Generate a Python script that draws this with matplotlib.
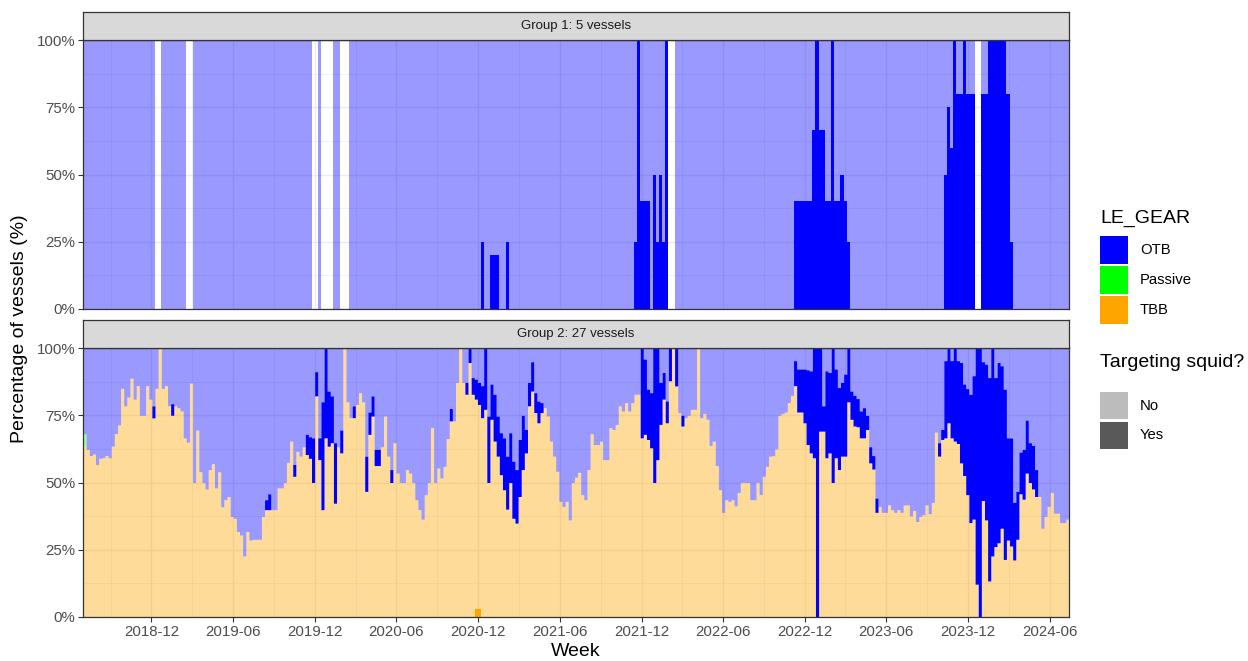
import numpy as np
import pandas as pd
import matplotlib
matplotlib.use('Agg')
import matplotlib.pyplot as plt
import matplotlib.dates as mdates
from matplotlib.patches import Rectangle
from matplotlib.ticker import MultipleLocator, FuncFormatter, FixedLocator

plt.rcParams['font.family'] = ['Liberation Sans', 'DejaVu Sans']

NA = np.nan
first_week = '2018-07-01'
n_weeks = 315

# Group 1: % of vessels with OTB targeting squid (rest = OTB, not squid); NA = no data that week
g1_otb_yes = [
    0, 0, 0, 0, 0, 0, 0, 0, 0, 0, 0, 0, 0, 0, 0, 0, 0, 0, 0, 0,
    0, 0, 0, 0, NA, 0, 0, 0, 0, 0, 0, 0, 0, 0, NA, 0, 0, 0, 0, 0,
    0, 0, 0, 0, 0, 0, 0, 0, 0, 0, 0, 0, 0, 0, 0, 0, 0, 0, 0, 0,
    0, 0, 0, 0, 0, 0, 0, 0, 0, 0, 0, 0, 0, 0, NA, 0, 0, NA, 0, NA,
    0, 0, 0, NA, NA, 0, 0, 0, 0, 0, 0, 0, 0, 0, 0, 0, 0, 0, 0, 0,
    0, 0, 0, 0, 0, 0, 0, 0, 0, 0, 0, 0, 0, 0, 0, 0, 0, 0, 0, 0,
    0, 0, 0, 0, 0, 0, 0, 25, 0, 0, 20, 20, 20, 0, 0, 25, 0, 0, 0, 0,
    0, 0, 0, 0, 0, 0, 0, 0, 0, 0, 0, 0, 0, 0, 0, 0, 0, 0, 0, 0,
    0, 0, 0, 0, 0, 0, 0, 0, 0, 0, 0, 0, 0, 0, 0, 0, 25, 100, 40, 40,
    40, 0, 50, 25, 50, 25, 100, 50, NA, 0, 0, 0, 0, 0, 0, 0, 0, 0, 0, 0,
    0, 0, 0, 0, 0, 0, 0, 0, 0, 0, 0, 0, 0, 0, 0, 0, 0, 0, 0, 0,
    0, 0, 0, 0, 0, 0, 0, 40, 40, 40, 40, 40, 40, 66.7, 100, 66.7, 66.7, 40, 40, 100,
    40, 40, 50, 40, 25, 0, 0, 0, 0, 0, 0, 0, 0, 0, 0, 0, 0, 0, 0, 0,
    0, 0, 0, 0, 0, 0, 0, 0, 0, 0, 0, 0, 0, 0, 0, 50, 75, 60, 100, 80,
    80, 100, 80, 80, 80, 100, NA, 80, 80, 100, 100, 100, 100, 100, 100, 80, 25, 0, 0, 0,
    0, 0, 0, 0, 0, 0, 0, 0, 0, 0, 0, 0, 0, 0, 0,
]

# Group 2: TBB share (all), OTB targeting squid share; OTB not squid = remainder
g2_tbb_total = [
    63.5, 62.3, 60, 60.6, 56.7, 59, 59.2, 60, 59.2, 63.5,
    68.2, 71.4, 85, 78.5, 81.8, 88.8, 81, 86, 75, 75,
    86, 81, 74, 85, 100, 85, 86, 78.5, 75, 78.5,
    77.8, 76.6, 66.6, 65, 87, 50, 69.5, 54, 50, 47.6,
    54.8, 57, 48, 54, 41, 43.6, 44.8, 37.4, 36.7, 31.8,
    30.5, 22.7, 31.8, 28.6, 28.9, 28.9, 28.9, 37.4, 39.9, 39.9,
    39.9, 39.9, 48, 48, 50, 57.5, 65.4, 52.3, 61.6, 59.8,
    63.3, 60.4, 59, 50, 82.2, 58.5, 39.9, 66.6, 63.5, 64.8,
    42.3, 63.3, 61, 100, 80, 74.1, 74.1, 79, 83.4, 80,
    46.7, 67.9, 74.7, 56.3, 56.3, 63.3, 74.7, 59.8, 50, 64.8,
    53.5, 50, 50, 54.8, 53.5, 50, 43.6, 39.9, 36.4, 45.5,
    50, 70.4, 50, 55.4, 51.7, 56, 66.3, 72.9, 72.9, 87.2,
    100, 87.2, 82.8, 94.6, 82.8, 81, 79, 74.1, 77.2, 50,
    73.5, 65.4, 59.8, 52.9, 47.3, 40.1, 50, 36.7, 34.9, 44.8,
    54.8, 61, 78.5, 84, 76, 72.2, 76, 77.8, 74.7, 65.4,
    59.8, 54.2, 43, 41.1, 43, 36.1, 50, 52, 53.8, 45.5,
    43.6, 54.8, 68.1, 64.1, 64.1, 65.4, 58.5, 58.5, 70.4, 69.7,
    71.6, 78.5, 76.6, 79.7, 76.6, 79.7, 82.8, 82.8, 66.6, 67.9,
    66, 62.9, 50, 58.5, 71.6, 81, 72.2, 87.8, 100, 85.9,
    76, 71, 74.1, 75, 77.2, 77.2, 100, 74.1, 75.7, 73.5,
    63.8, 65.4, 56.3, 47.3, 38.9, 43.6, 43, 43.6, 41.3, 46.3,
    50, 50, 50, 43.6, 43.6, 50, 45.5, 52.3, 56, 59.8,
    60, 62.5, 75, 75.7, 76.2, 79.7, 82.4, 86, 76.2, 76.2,
    72.2, 64.1, 61, 59.2, 0, 69.1, 69.1, 59.2, 61, 50,
    59.2, 54.8, 59.8, 59.8, 80, 73.5, 71, 70.7, 66.6, 66.6,
    69.7, 57.3, 55, 38.9, 41.1, 38.9, 38.9, 41.7, 39.9, 38.9,
    39.9, 38.9, 41.7, 41.7, 37.6, 39.6, 35.5, 37.4, 38, 41.7,
    38.4, 42.6, 68.7, 59.8, 66, 66.6, 72.2, 66.6, 65.4, 64.5,
    57.3, 52.6, 45.5, 35.1, 36.4, 12.2, 0, 43.3, 36.1, 13.4,
    22.7, 26.2, 27.6, 33, 21.4, 28.6, 26.4, 21.2, 28.9, 45.8,
    43.8, 53.5, 50, 47.6, 44.8, 44.8, 33, 37.4, 41.1, 46.3,
    38.6, 38.6, 35.1, 35.1, 36.4,
]

g2_otb_yes = [
    0, 0, 0, 0, 0, 0, 0, 0, 0, 0, 0, 0, 0, 0, 0, 0, 0, 0, 0, 0,
    0, 0, 4.5, 0, 0, 0, 0, 0, 4.3, 0, 0, 0, 0, 0, 0, 0, 0, 0, 0, 0,
    0, 0, 0, 0, 0, 0, 0, 0, 0, 0, 0, 0, 0, 0, 0, 0, 0, 0, 3.7, 5.9,
    0, 0, 0, 0, 0, 0, 0, 4.4, 0, 0, 0, 7.5, 8, 16.6, 9, 8.1, 40.1, 33.4, 20.5, 17.4,
    22.5, 0, 8.5, 0, 0, 0, 4.4, 0, 0, 0, 13.1, 8.3, 7.5, 6, 6, 0, 0, 0, 4.8, 0,
    0, 0, 0, 0, 0, 0, 0, 0, 0, 0, 0, 0, 0, 0, 0, 0, 0, 4.6, 0, 0,
    0, 0, 4.4, 5.4, 6.2, 7.4, 8.2, 11.9, 22.8, 24.7, 13.1, 17.4, 14.9, 15.6, 19.3, 19.7, 18.5, 21.2, 19.9, 21.2,
    20.2, 8.7, 8.7, 10.9, 7.4, 8.1, 3.7, 0, 0, 0, 0, 0, 0, 0, 0, 0, 0, 0, 0, 0,
    0, 0, 0, 0, 0, 0, 0, 0, 0, 0, 0, 0, 0, 0, 0, 0, 0, 0, 33.4, 28,
    18.7, 20.5, 50, 41.5, 15.6, 9.9, 8.1, 12.2, 0, 14.1, 0, 4, 0, 0, 0, 0, 0, 0, 0, 0,
    0, 0, 0, 0, 0, 0, 0, 0, 0, 0, 0, 0, 0, 0, 0, 0, 0, 0, 0, 0,
    0, 0, 0, 0, 0, 0, 0, 9.3, 16, 16, 20, 27.8, 30.5, 40.8, 100, 30.9, 9.4, 32.3, 29.9, 50,
    33, 30.5, 27.4, 30.5, 20, 10.5, 11.4, 10.5, 10, 11.2, 5.3, 6, 5, 5.3, 0, 0, 0, 0, 0, 0,
    0, 0, 0, 0, 0, 0, 0, 0, 0, 0, 0, 0, 0, 5, 3.7, 28.7, 27.8, 28.7, 34.6, 30.8,
    37.3, 34, 39.4, 47.7, 53.3, 87.8, 100, 51.6, 57.9, 75.6, 77.3, 62.8, 67, 60.4, 63.3, 38, 40.2, 21.4, 17.8, 15.5,
    18.5, 19.7, 14.8, 16.2, 10, 0, 0, 0, 0, 0, 0, 0, 0, 0, 0,
]

# sparse extra categories in group 2 (week index, %)
g2_passive_weeks = [0]
g2_passive_no = [4.6]
g2_tbb_yes_weeks = [125, 126]
g2_tbb_yes = [3.2, 3.2]

gear_colors = {'OTB': '#0000FF', 'Passive': '#00FF00', 'TBB': '#FFA500'}
alpha_no, alpha_yes = 0.4, 1.0

W, H = 1248, 661


def fx(x):
    return x / W


def fy(y):
    return 1 - y / H


weeks = pd.date_range(first_week, periods=n_weeks + 1, freq='7D')
edges = mdates.date2num(weeks)


def layer(ax, lo, hi, color, alpha):
    lo = np.append(lo, lo[-1])
    hi = np.append(hi, hi[-1])
    ax.fill_between(edges, lo, hi, step='post', color=color, alpha=alpha,
                    linewidth=0, zorder=2)


def style_panel(ax, show_x):
    ax.set_facecolor('white')
    ax.set_xlim(edges[0], edges[-1])
    ax.set_ylim(0, 100)
    ax.xaxis.set_major_locator(mdates.MonthLocator(bymonth=(6, 12)))
    ax.xaxis.set_major_formatter(mdates.DateFormatter('%Y-%m'))
    majors = [mdates.date2num(d) for d in pd.date_range('2018-06-01', '2024-12-01', freq='6MS')]
    minors = [(a + b) / 2 for a, b in zip(majors[:-1], majors[1:])]
    ax.xaxis.set_minor_locator(FixedLocator(minors))
    ax.yaxis.set_major_locator(MultipleLocator(25))
    ax.yaxis.set_minor_locator(MultipleLocator(12.5))
    ax.yaxis.set_major_formatter(FuncFormatter(lambda v, p: f'{v:.0f}%'))
    ax.grid(True, which='major', color='#EBEBEB', linewidth=1.0, zorder=0)
    ax.grid(True, which='minor', color='#EBEBEB', linewidth=0.5, zorder=0)
    ax.set_axisbelow(True)
    for s in ax.spines.values():
        s.set_color('#333333')
        s.set_linewidth(0.9)
        s.set_zorder(5)
    ax.tick_params(which='minor', length=0)
    ax.tick_params(axis='y', which='major', length=3.5, width=0.8, color='#333333',
                   labelsize=10.8, labelcolor='#4D4D4D', pad=2)
    if show_x:
        ax.tick_params(axis='x', which='major', length=3.5, width=0.8, color='#333333',
                       labelsize=10.8, labelcolor='#4D4D4D', pad=2)
    else:
        ax.tick_params(axis='x', which='major', length=0, labelbottom=False)


def add_strip(fig, top_px, text):
    sax = fig.add_axes([fx(83), fy(top_px + 28), fx(1069) - fx(83), 28 / H])
    sax.set_facecolor('#D9D9D9')
    sax.set_xticks([])
    sax.set_yticks([])
    for s in sax.spines.values():
        s.set_color('#333333')
        s.set_linewidth(0.9)
    sax.text(0.5, 0.5, text, ha='center', va='center', fontsize=9.5,
             color='#1A1A1A', transform=sax.transAxes)


fig = plt.figure(figsize=(W / 100, H / 100), dpi=100)

# ---- Group 1
ax1 = fig.add_axes([fx(83), fy(309), fx(1069) - fx(83), (309 - 40) / H])
g1_yes = np.array(g1_otb_yes, dtype=float)
layer(ax1, np.zeros(n_weeks), g1_yes, gear_colors['OTB'], alpha_yes)
layer(ax1, g1_yes, np.where(np.isnan(g1_yes), np.nan, 100.0), gear_colors['OTB'], alpha_no)
style_panel(ax1, False)
add_strip(fig, 12, 'Group 1: 5 vessels')

# ---- Group 2
ax2 = fig.add_axes([fx(83), fy(617), fx(1069) - fx(83), (617 - 348) / H])
tbb_yes = np.zeros(n_weeks)
tbb_yes[g2_tbb_yes_weeks] = g2_tbb_yes
passive = np.zeros(n_weeks)
passive[g2_passive_weeks] = g2_passive_no
tbb_all = np.array(g2_tbb_total, dtype=float)
otb_yes = np.array(g2_otb_yes, dtype=float)

c0 = np.zeros(n_weeks)
c1 = tbb_yes
c2 = tbb_all
c3 = c2 + passive
c4 = c3 + otb_yes
layer(ax2, c0, c1, gear_colors['TBB'], alpha_yes)
layer(ax2, c1, c2, gear_colors['TBB'], alpha_no)
layer(ax2, c2, c3, gear_colors['Passive'], alpha_no)
layer(ax2, c3, c4, gear_colors['OTB'], alpha_yes)
layer(ax2, c4, np.full(n_weeks, 100.0), gear_colors['OTB'], alpha_no)
style_panel(ax2, True)
add_strip(fig, 320, 'Group 2: 27 vessels')

# ---- axis titles
fig.text(fx(20), fy(329), 'Percentage of vessels (%)', rotation=90,
         ha='center', va='center', fontsize=14)
fig.text(fx(576), fy(651), 'Week', ha='center', va='center', fontsize=14)

# ---- legends
fig.text(fx(1100), fy(223), 'LE_GEAR', ha='left', va='baseline', fontsize=14)
for i, g in enumerate(['OTB', 'Passive', 'TBB']):
    top = 236 + 30 * i
    fig.patches.append(Rectangle((fx(1100), fy(top + 27.5)), 28 / W, 27.5 / H,
                                 transform=fig.transFigure, facecolor=gear_colors[g],
                                 edgecolor='none'))
    fig.text(fx(1140), fy(top + 14), g, ha='left', va='center', fontsize=10.7)

fig.text(fx(1100), fy(367), 'Targeting squid?', ha='left', va='baseline', fontsize=14)
for i, (lab, a) in enumerate([('No', alpha_no), ('Yes', alpha_yes)]):
    top = 392 + 29.5 * i
    fig.patches.append(Rectangle((fx(1100), fy(top + 27)), 28 / W, 27 / H,
                                 transform=fig.transFigure, facecolor='#595959',
                                 alpha=a, edgecolor='none'))
    fig.text(fx(1140), fy(top + 13.5), lab, ha='left', va='center', fontsize=10.7)

fig.savefig('out.png', dpi=100)
